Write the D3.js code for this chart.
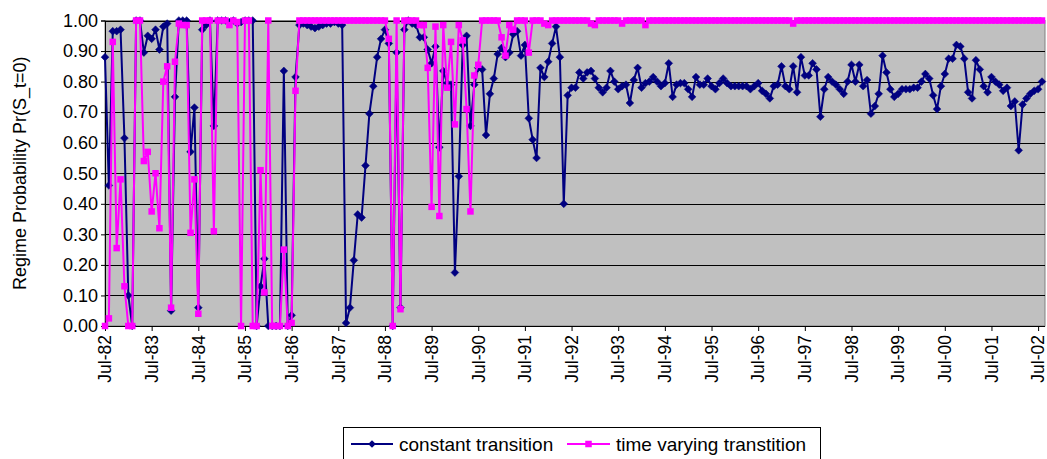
<!DOCTYPE html>
<html><head><meta charset="utf-8">
<script src="https://cdn.jsdelivr.net/npm/d3@7"></script>
<style>
body{margin:0;background:#fff;overflow:hidden;}
text{font-family: Arial, "Liberation Sans", sans-serif; fill:#000;}
</style>
</head><body><svg id="c" width="1047" height="459"></svg>
<script>
// ---------------- data ----------------
const startMonth = new Date(1982, 6, 1);   // Jul-82, monthly observations
const tickLabels = ["Jul-82","Jul-83","Jul-84","Jul-85","Jul-86","Jul-87","Jul-88","Jul-89","Jul-90","Jul-91",
  "Jul-92","Jul-93","Jul-94","Jul-95","Jul-96","Jul-97","Jul-98","Jul-99","Jul-00","Jul-01","Jul-02"];
const yTicks = [0,0.1,0.2,0.3,0.4,0.5,0.6,0.7,0.8,0.9,1.0];
const seriesNames = ["constant transition","time varying transtition"];

const constantTransition = [
  0.88,0.46,0.965,0.965,0.97,0.615,0.10,0.0,1.0,1.0,
  0.895,0.95,0.94,0.97,0.905,0.98,0.99,0.05,0.75,1.0,
  1.0,1.0,0.57,0.715,0.06,0.97,0.985,1.0,0.655,1.0,
  1.0,1.0,0.995,1.0,0.99,0.995,1.0,1.0,1.0,0.0,
  0.13,0.22,0.0,0.0,0.0,0.0,0.835,0.0,0.035,0.815,
  0.985,0.99,0.985,0.98,0.975,0.98,0.985,0.99,0.99,0.995,
  0.99,0.985,0.01,0.06,0.215,0.365,0.355,0.525,0.695,0.785,
  0.88,0.94,0.97,0.925,0.0,0.895,0.06,0.97,1.0,0.99,
  0.985,0.945,0.945,0.905,0.86,0.915,0.585,0.835,0.795,0.79,
  0.175,0.49,0.92,0.95,0.655,0.79,0.845,0.84,0.625,0.76,
  0.81,0.89,0.91,0.88,0.895,0.955,0.965,0.885,0.92,0.68,
  0.61,0.55,0.845,0.815,0.865,0.925,0.98,0.88,0.40,0.755,
  0.78,0.78,0.83,0.81,0.83,0.835,0.81,0.78,0.765,0.78,
  0.835,0.80,0.775,0.785,0.79,0.73,0.805,0.845,0.78,0.795,
  0.80,0.815,0.80,0.785,0.795,0.86,0.75,0.79,0.795,0.795,
  0.775,0.75,0.815,0.79,0.79,0.81,0.785,0.775,0.795,0.81,
  0.795,0.785,0.785,0.785,0.785,0.785,0.775,0.785,0.795,0.77,
  0.76,0.745,0.785,0.79,0.85,0.785,0.775,0.85,0.765,0.88,
  0.82,0.82,0.86,0.84,0.685,0.775,0.815,0.80,0.79,0.775,
  0.76,0.80,0.855,0.80,0.855,0.785,0.805,0.695,0.72,0.76,
  0.885,0.83,0.775,0.75,0.76,0.775,0.775,0.775,0.78,0.78,
  0.80,0.825,0.81,0.755,0.71,0.785,0.825,0.875,0.875,0.92,
  0.915,0.875,0.765,0.745,0.87,0.84,0.785,0.765,0.815,0.80,
  0.79,0.77,0.78,0.72,0.735,0.575,0.725,0.745,0.76,0.77,
  0.775,0.80
];

const timeVaryingTransition = [
  0.0,0.025,0.93,0.255,0.48,0.13,0.0,0.0,1.0,1.0,
  0.54,0.57,0.375,0.50,0.32,0.80,0.85,0.06,0.865,0.99,
  0.985,0.985,0.305,0.48,0.04,1.0,1.0,1.0,0.31,1.0,
  1.0,1.0,0.985,1.0,0.995,0.0,1.0,1.0,0.0,0.0,
  0.51,0.11,1.0,0.0,0.0,0.0,0.25,0.0,0.01,0.77,
  1.0,1.0,1.0,1.0,1.0,1.0,1.0,1.0,1.0,1.0,
  1.0,1.0,1.0,1.0,1.0,1.0,1.0,1.0,1.0,1.0,
  1.0,1.0,1.0,0.94,0.0,1.0,0.055,1.0,1.0,1.0,
  1.0,0.985,0.985,0.845,0.39,0.98,0.36,0.985,0.78,0.93,
  0.66,0.985,0.935,0.71,0.375,0.82,0.855,1.0,1.0,1.0,
  1.0,1.0,0.945,0.885,0.985,0.97,1.0,1.0,1.0,0.895,
  1.0,1.0,1.0,0.99,0.985,1.0,1.0,1.0,1.0,1.0,
  1.0,1.0,1.0,1.0,1.0,0.99,0.985,1.0,1.0,1.0,
  1.0,1.0,1.0,0.99,1.0,1.0,1.0,1.0,1.0,0.985,
  1.0,1.0,1.0,1.0,1.0,1.0,1.0,1.0,1.0,1.0,
  1.0,1.0,1.0,1.0,1.0,1.0,1.0,1.0,1.0,1.0,
  1.0,1.0,1.0,1.0,1.0,1.0,1.0,1.0,1.0,1.0,
  1.0,1.0,1.0,1.0,1.0,1.0,1.0,0.99,1.0,1.0,
  1.0,1.0,1.0,1.0,1.0,1.0,1.0,1.0,1.0,1.0,
  1.0,1.0,1.0,1.0,1.0,1.0,1.0,1.0,1.0,1.0,
  1.0,1.0,1.0,1.0,1.0,1.0,1.0,1.0,1.0,1.0,
  1.0,1.0,1.0,1.0,1.0,1.0,1.0,1.0,1.0,1.0,
  1.0,1.0,1.0,1.0,1.0,1.0,1.0,1.0,1.0,1.0,
  1.0,1.0,1.0,1.0,1.0,1.0,1.0,1.0,1.0,1.0,
  1.0,1.0
];

// ---------------- chart ----------------
const fmt = d3.timeFormat("%b-%y");
const categories = constantTransition.map((_, i) => fmt(d3.timeMonth.offset(startMonth, i)));

const svg = d3.select("#c");
const plot = {left:105, right:1042, top:20.5, bottom:326};

const x = d3.scalePoint().domain(categories).range([plot.left, plot.right]);
const y = d3.scaleLinear().domain([0,1]).range([plot.bottom, plot.top]);

svg.append("rect").attr("x",0).attr("y",0).attr("width",1047).attr("height",459).attr("fill","#fff");

// plot area
svg.append("rect")
  .attr("x", plot.left).attr("y", plot.top)
  .attr("width", plot.right - plot.left + 3).attr("height", plot.bottom - plot.top)
  .attr("fill", "#C0C0C0").attr("stroke", "#808080").attr("stroke-width", 1);

// gridlines
svg.append("g").selectAll("line").data(yTicks).join("line")
  .attr("x1", plot.left).attr("x2", plot.right + 3)
  .attr("y1", d => Math.round(y(d)) + 0.5).attr("y2", d => Math.round(y(d)) + 0.5)
  .attr("stroke", "#000").attr("stroke-width", 1);

// y axis
const yAxis = svg.append("g").attr("transform", `translate(${plot.left},0)`)
  .call(d3.axisLeft(y).tickValues(yTicks).tickFormat(d3.format(".2f")).tickSize(4).tickPadding(3));
yAxis.select(".domain").attr("stroke", "#000");
yAxis.selectAll(".tick line").attr("stroke", "#000");
yAxis.selectAll("text").style("font-size", "18px").attr("fill", "#000");

// x axis
const xAxis = svg.append("g").attr("transform", `translate(0,${plot.bottom})`)
  .call(d3.axisBottom(x).tickValues(tickLabels).tickSize(5).tickSizeOuter(0));
xAxis.select(".domain").attr("stroke", "#000");
xAxis.selectAll(".tick line").attr("stroke", "#000");
xAxis.selectAll("text")
  .style("font-size", "17.5px").attr("fill", "#000")
  .attr("transform", "rotate(-90)")
  .attr("text-anchor", "end")
  .attr("x", -9).attr("y", 0).attr("dy", "0.33em");

// y title
svg.append("text")
  .attr("transform", `translate(26,${(plot.top + plot.bottom) / 2}) rotate(-90)`)
  .attr("text-anchor", "middle")
  .style("font-size", "18px")
  .text("Regime Probability Pr(S_t=0)");

// series
const line = d3.line().x((d, i) => x(categories[i])).y(d => y(d));
const colors = ["#000080", "#FF00FF"];
const data = [constantTransition, timeVaryingTransition];

data.forEach((s, k) => {
  svg.append("path").datum(s).attr("d", line)
    .attr("fill", "none").attr("stroke", colors[k]).attr("stroke-width", 2)
    .attr("stroke-linejoin", "round");
  const g = svg.append("g");
  if (k === 0) {
    g.selectAll("path").data(s).join("path")
      .attr("d", d3.symbol(d3.symbolSquare, 30)())
      .attr("transform", (d, i) => `translate(${x(categories[i])},${y(d)}) rotate(45)`)
      .attr("fill", colors[k]).attr("stroke", colors[k]).attr("stroke-width", 0.5);
  } else {
    g.selectAll("rect").data(s).join("rect")
      .attr("x", (d, i) => x(categories[i]) - 3.25).attr("y", d => y(d) - 3.25)
      .attr("width", 6.5).attr("height", 6.5)
      .attr("fill", colors[k]);
  }
});

// legend
const lg = svg.append("g");
lg.append("rect").attr("x", 343.5).attr("y", 427.5).attr("width", 477).attr("height", 45)
  .attr("fill", "#fff").attr("stroke", "#000").attr("stroke-width", 1);
const items = [{x0: 351, x1: 393, tx: 399}, {x0: 567, x1: 610, tx: 616}];
items.forEach((it, k) => {
  lg.append("line").attr("x1", it.x0).attr("x2", it.x1).attr("y1", 444).attr("y2", 444)
    .attr("stroke", colors[k]).attr("stroke-width", 2);
  const cx = (it.x0 + it.x1) / 2;
  if (k === 0) {
    lg.append("path").attr("d", d3.symbol(d3.symbolSquare, 30)())
      .attr("transform", `translate(${cx},444) rotate(45)`).attr("fill", colors[k]);
  } else {
    lg.append("rect").attr("x", cx - 3.25).attr("y", 440.75).attr("width", 6.5).attr("height", 6.5).attr("fill", colors[k]);
  }
  lg.append("text").attr("x", it.tx).attr("y", 444).attr("dy", "0.35em")
    .style("font-size", "19px").text(seriesNames[k]);
});
</script>
</body></html>
